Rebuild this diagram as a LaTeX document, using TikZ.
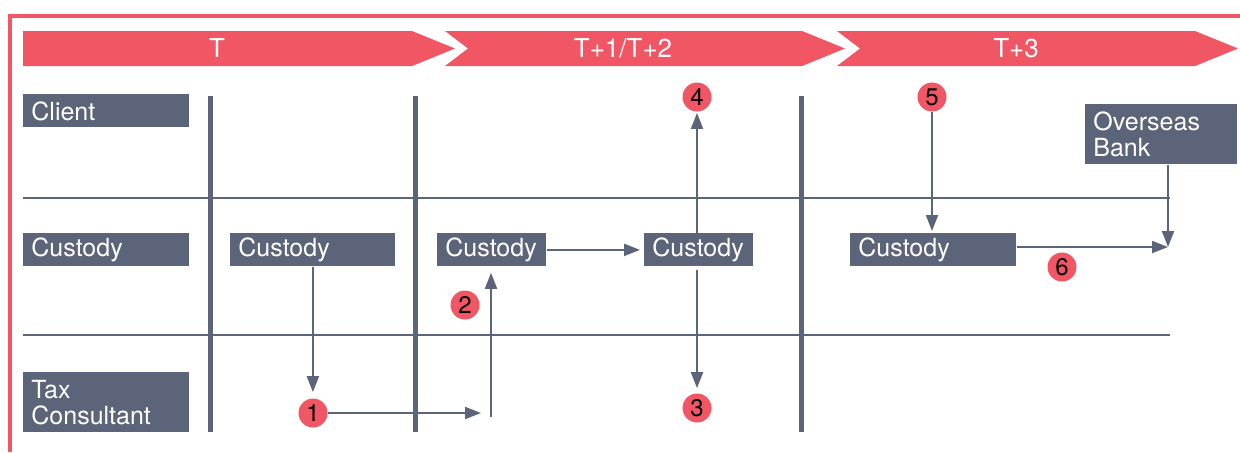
\documentclass[tikz,border=0pt]{standalone}
\usepackage{fontspec}
\setmainfont{TeX Gyre Heros}
\usepackage{xcolor}
\usepackage{tikz}
\usetikzlibrary{arrows.meta, calc, positioning}
\definecolor{slate}{RGB}{92,100,121}
\definecolor{banner}{RGB}{240,86,100}

\begin{document}
\begin{tikzpicture}[x=0.5pt, y=-0.5pt,
    lbox/.style={fill=slate, text=white, anchor=north west, inner xsep=4pt, inner ysep=0pt,
        minimum height=16.5pt, text width=#1, align=left, font=\fontsize{12.5}{13}\selectfont},
    num/.style={circle, fill=banner, minimum size=14.5pt, inner sep=0pt, font=\fontsize{12}{12}\selectfont},
    arr/.style={draw=slate, line width=1pt, -{Triangle[length=8pt, width=6pt]}},
    sep/.style={draw=slate, line width=2.5pt},
    lane/.style={draw=slate, line width=0.75pt},
    period/.style={text=white, font=\fontsize{13}{13}\selectfont}]
    \useasboundingbox (0,0) rectangle (1240,452);

    % Khung đỏ
    \draw[banner, line width=2pt] (10,452) -- (10,16) -- (1240,16);

    % Dải thời gian
    \fill[banner] (23,31) -- (412,31) -- (455,48.5) -- (412,66) -- (23,66) -- cycle;
    \fill[banner] (445,31) -- (802,31) -- (845,48.5) -- (802,66) -- (445,66) -- (468,48.5) -- cycle;
    \fill[banner] (837,31) -- (1195,31) -- (1238,48.5) -- (1195,66) -- (837,66) -- (860,48.5) -- cycle;
    \node[period] (pT) at (217,48.5) {T};
    \node[period] (pT12) at (623,48.5) {T+1/T+2};
    \node[period] (pT3) at (1016,48.5) {T+3};

    % Các làn và vạch chia
    \draw[lane] (23,198) -- (1170,198);
    \draw[lane] (23,335) -- (1170,335);
    \foreach \x in {210,415,801}
        \draw[sep] (\x,96) -- (\x,432);

    % Nhãn các làn
    \node[lbox=75pt] (client) at (23,94) {Client};
    \node[lbox=75pt] (custody) at (23,233) {Custody};
    \node[lbox=75pt, minimum height=30pt] (tax) at (23,372) {Tax\\Consultant};

    % Các bước
    \node[lbox=74.5pt] (c1) at (230,233) {Custody};
    \node[lbox=46.5pt] (c2) at (437,233) {Custody};
    \node[lbox=46.5pt] (c3) at (644,233) {Custody};
    \node[lbox=75pt] (c4) at (850,233) {Custody};
    \node[lbox=68pt, minimum height=30pt] (bank) at (1085,104) {Overseas\\Bank};

    \node[num] (n1) at (313,413) {1};
    \node[num] (n2) at (465,305) {2};
    \node[num] (n3) at (697,408) {3};
    \node[num] (n4) at (697,97) {4};
    \node[num] (n5) at (932,97) {5};
    \node[num] (n6) at (1062,267) {6};

    % Mũi tên
    \coordinate (j1) at (481,413);
    \coordinate (j2) at (491,417);
    \coordinate (bin) at (1168,247);
    \draw[arr, shorten >=3pt] (c1.south) -- (c1.south |- n1.north);
    \draw[arr] (n1) -- (j1);
    \draw[arr, shorten >=3pt] (j2) -- (j2 |- c2.south);
    \draw[arr, shorten >=2pt] (c2) -- (c3);
    \draw[arr, shorten >=0.5pt] (n4 |- c3.north) -- (n4);
    \draw[arr, shorten <=1.5pt, shorten >=2.5pt] (n3 |- c3.south) -- (n3);
    \draw[arr, shorten >=1pt] (n5) -- (n5 |- c4.north);
    \draw[arr] (bin |- bank.south) -- (bin);
    \draw[arr] (c4.east |- bin) -- (bin);
\end{tikzpicture}
\end{document}
